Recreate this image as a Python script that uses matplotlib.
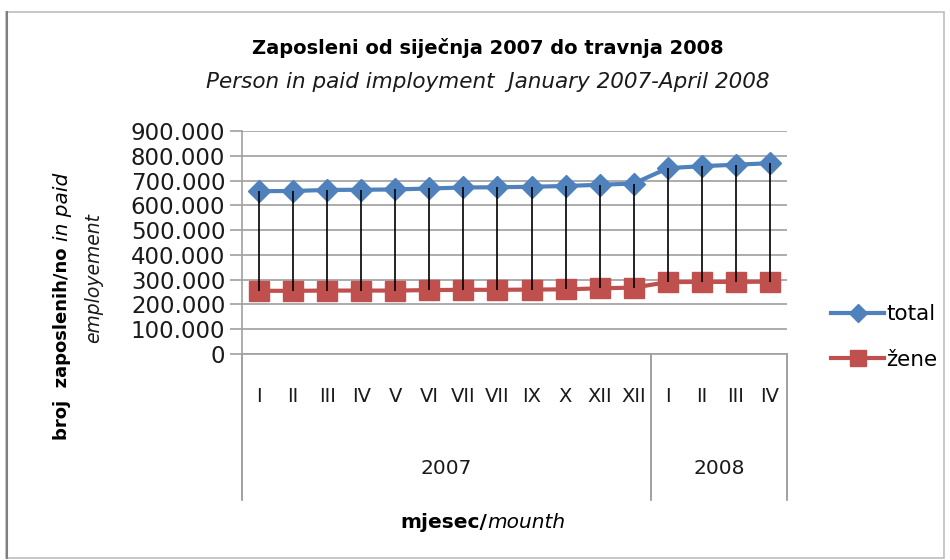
import matplotlib.pyplot as plt
from matplotlib.patches import Rectangle
from matplotlib.lines import Line2D
import matplotlib.transforms as mtransforms

plt.rcParams['font.family'] = ['DejaVu Sans']

# --- data (thousands of persons) ---
months = ['I', 'II', 'III', 'IV', 'V', 'VI', 'VII', 'VII', 'IX', 'X', 'XII', 'XII',
          'I', 'II', 'III', 'IV']
years = ['2007', '2008']
months_per_year = [12, 4]
total = [657, 658, 662, 663, 664, 668, 672, 673, 675, 678, 683, 688,
         750, 758, 764, 770]
zene = [255, 255, 256, 256, 256, 258, 259, 259, 260, 261, 265, 268,
        290, 291, 291, 292]
yticks = [0, 100, 200, 300, 400, 500, 600, 700, 800, 900]

W, H = 950, 560
fig = plt.figure(figsize=(9.5, 5.6), dpi=100)

# outer chart border
fig.patches.append(Rectangle((6 / W, 2 / H), 938 / W, 546 / H, transform=fig.transFigure,
                             fill=False, edgecolor='#bdbdbd', lw=1.2))
fig.add_artist(Line2D([7 / W, 7 / W], [2 / H, 548 / H], color='#808080', lw=1.5))

# plot area: x 242..787, y 131..354 px
ax = fig.add_axes([242 / W, (H - 354) / H, 545 / W, 223 / H])
x = list(range(len(months)))
vals_t = [v * 1000 for v in total]
vals_z = [v * 1000 for v in zene]

# high-low lines
ax.vlines(x, vals_z, vals_t, color='black', lw=1.2, zorder=3)
ax.plot(x, vals_t, color='#4F81BD', lw=3, marker='D', markersize=11, zorder=2, label='total')
ax.plot(x, vals_z, color='#C0504D', lw=3, marker='s', markersize=14, zorder=2, label='žene')

ax.set_xlim(-0.5, len(months) - 0.5)
ax.set_ylim(0, 900000)
ax.set_yticks([v * 1000 for v in yticks])
ax.set_yticklabels(['0' if v == 0 else f'{v}.000' for v in yticks], fontsize=16.5, color='#1a1a1a')
ax.tick_params(axis='y', length=9, color='#a0a0a0', width=1.2, pad=3)
ax.set_xticks([])
ax.grid(axis='y', color='#a6a6a6', lw=1.3)
ax.set_axisbelow(True)
for s in ['top', 'right']:
    ax.spines[s].set_visible(False)
ax.spines['left'].set_color('#a0a0a0')
ax.spines['bottom'].set_color('#a0a0a0')
ax.spines['left'].set_linewidth(1.2)
ax.spines['bottom'].set_linewidth(1.2)

# multi-level category axis
tr = mtransforms.blended_transform_factory(ax.transData, ax.transAxes)
box_bottom = -(500 - 354) / 223
for i, m in enumerate(months):
    ax.text(i, -(397 - 354) / 223, m, transform=tr, ha='center', va='center',
            fontsize=14, color='#1a1a1a')
edge = -0.5
ax.plot([edge, edge], [0, box_bottom], transform=tr, color='#909090', lw=1.2, clip_on=False)
for yr, n in zip(years, months_per_year):
    mid = edge + n / 2
    edge += n
    ax.plot([edge, edge], [0, box_bottom], transform=tr, color='#909090', lw=1.2, clip_on=False)
    ax.text(mid, -(469 - 354) / 223, yr, transform=tr, ha='center', va='center',
            fontsize=14.5, color='#1a1a1a')

# titles
fig.text(488 / W, 1 - 48 / H, 'Zaposleni od siječnja 2007 do travnja 2008',
         ha='center', va='center', fontsize=14, fontweight='bold')
fig.text(488 / W, 1 - 82 / H, 'Person in paid imployment  January 2007-April 2008',
         ha='center', va='center', fontsize=15.5, style='italic', color='#1a1a1a')

# axis titles
fig.text(487 / W, 1 - 522 / H, 'mjesec/', ha='right', va='center', fontsize=14.5, fontweight='bold')
fig.text(487 / W, 1 - 522 / H, 'mounth', ha='left', va='center', fontsize=14.5, style='italic')

fig.text(62 / W, 1 - 241 / H, 'broj  zaposlenih/no ', ha='right', va='center', rotation=90,
         fontsize=13, fontweight='bold', rotation_mode='anchor')
fig.text(62 / W, 1 - 241 / H, 'in paid', ha='left', va='center', rotation=90,
         fontsize=14.5, style='italic', rotation_mode='anchor')
fig.text(94 / W, 1 - 278 / H, 'employement', ha='center', va='center', rotation=90,
         fontsize=13.5, style='italic', color='#1a1a1a')

# legend
leg = fig.legend(loc='center left', bbox_to_anchor=(822 / W, 1 - 337 / H), frameon=False,
                 fontsize=15.5, handlelength=2.5, handletextpad=0.1, labelspacing=1.2,
                 markerscale=0.85, borderaxespad=0)

fig.savefig('out.png', dpi=100)
